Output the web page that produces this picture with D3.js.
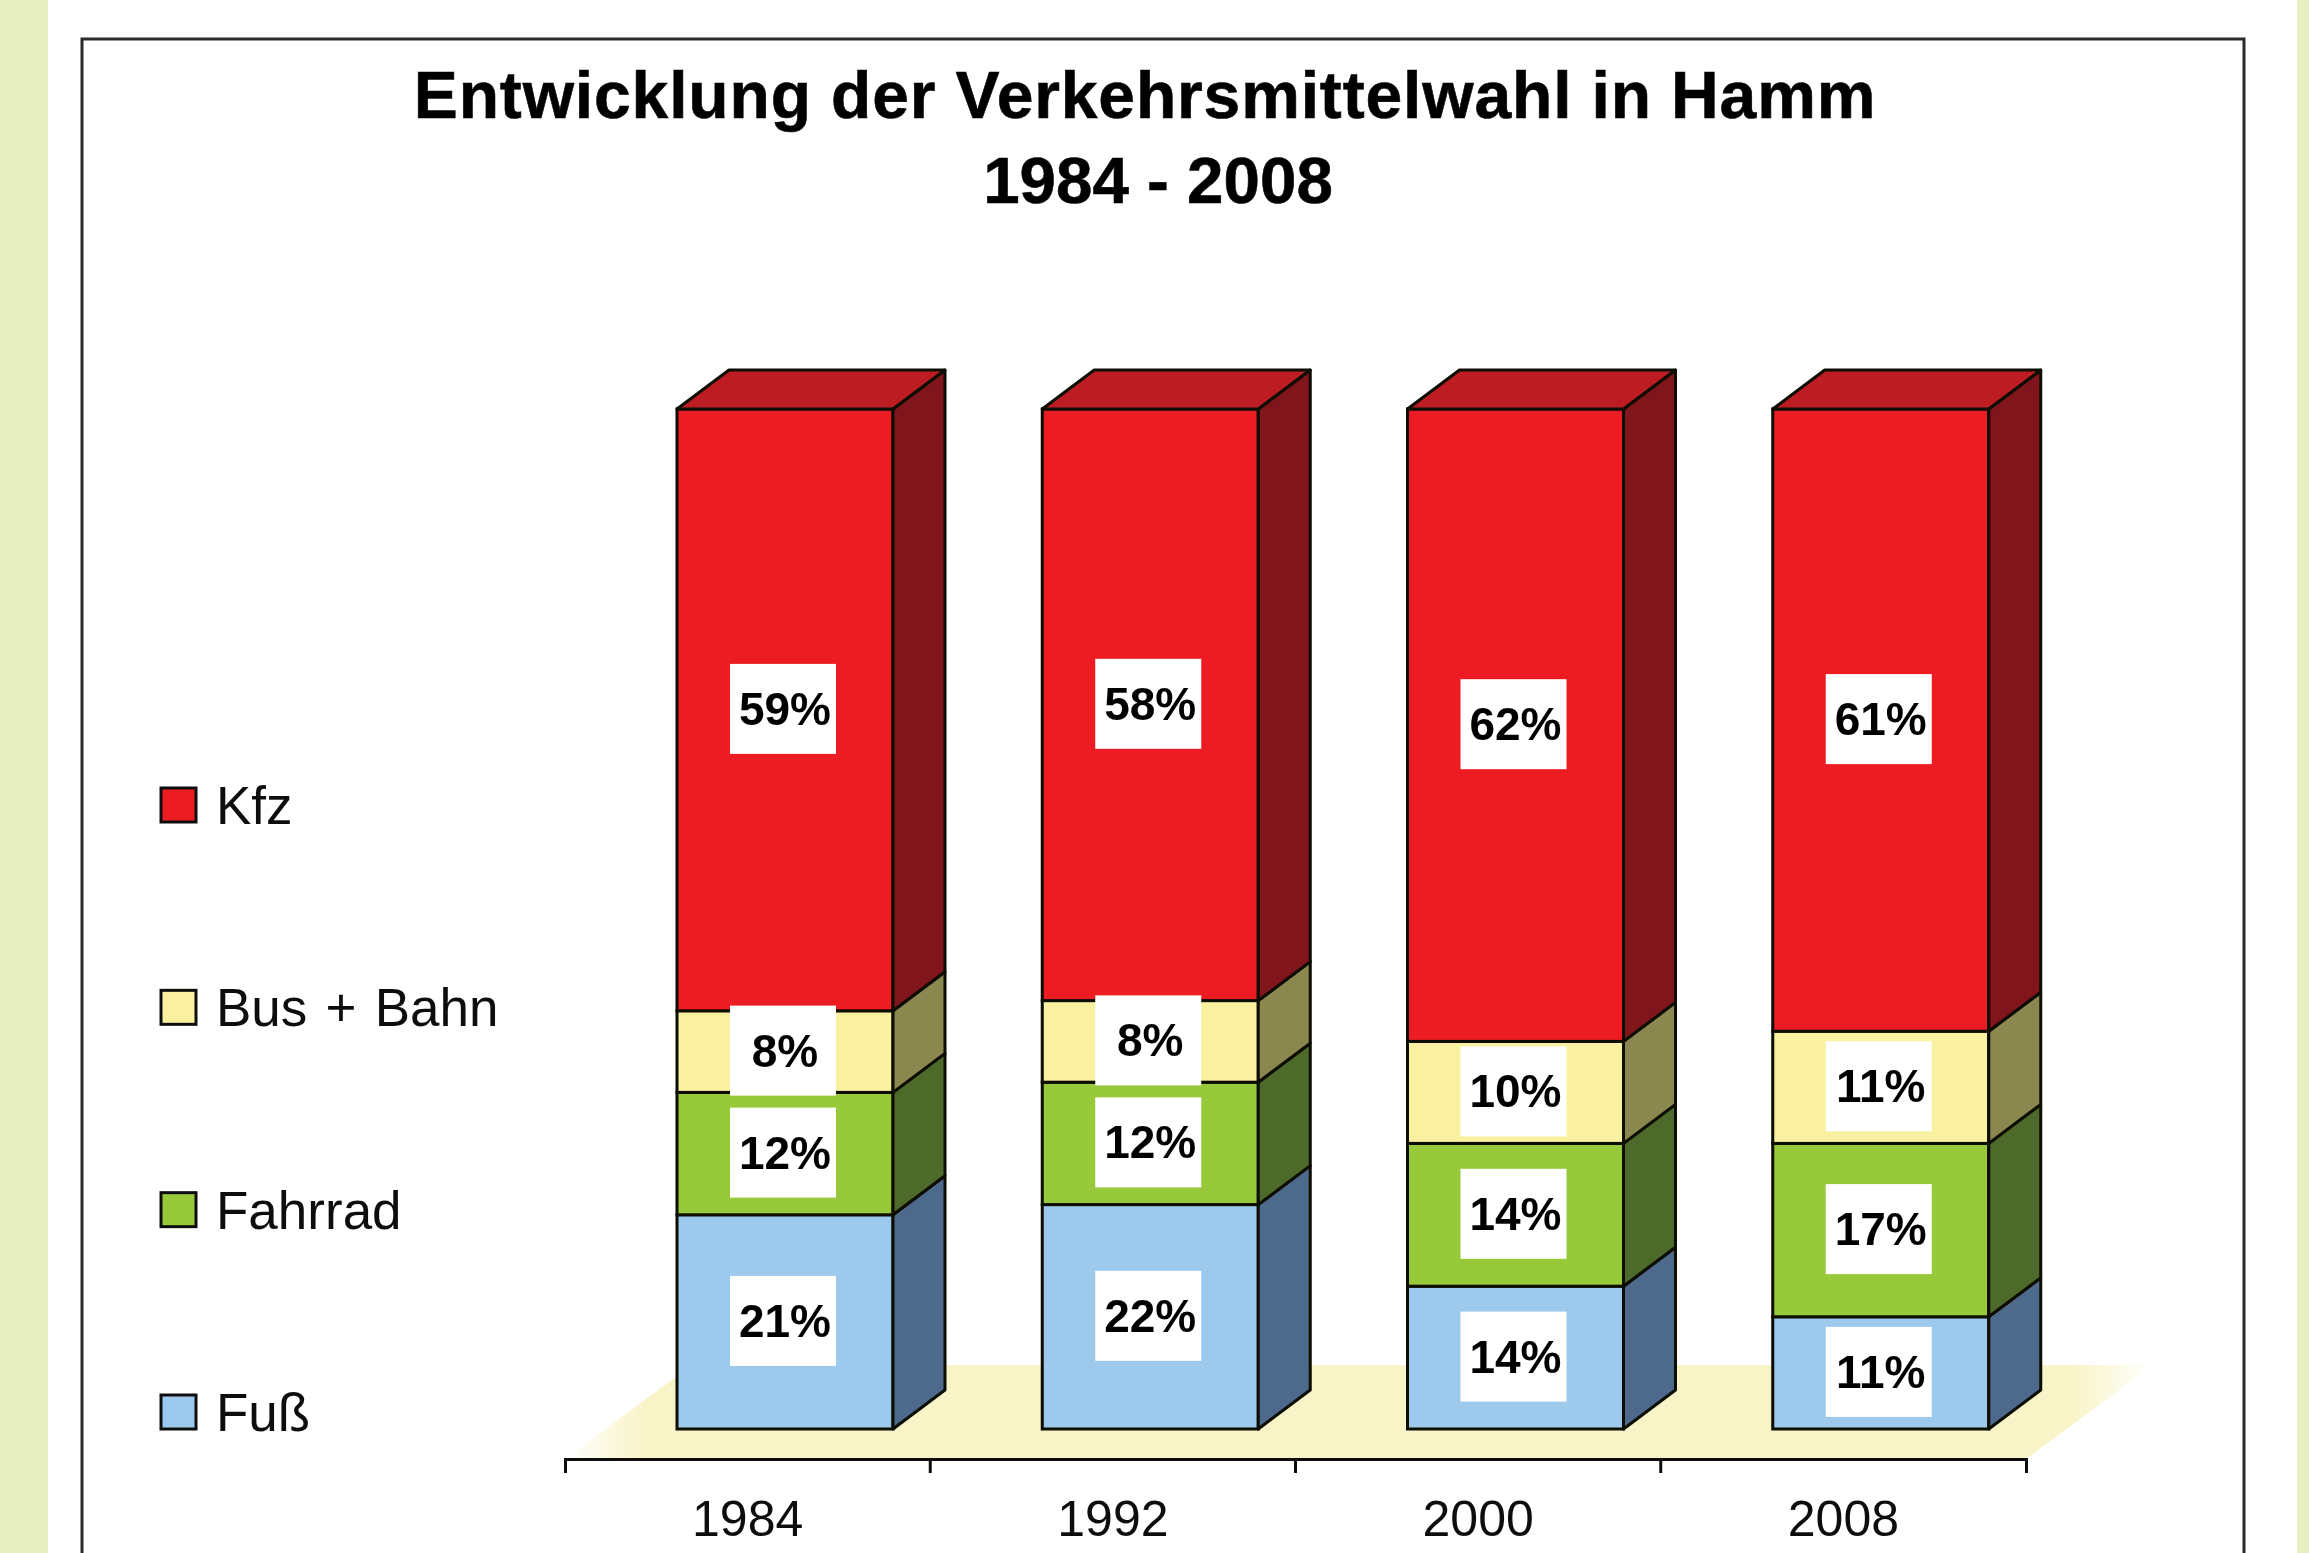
<!DOCTYPE html>
<html><head><meta charset="utf-8">
<script src="https://cdn.jsdelivr.net/npm/d3@7"></script>
<style>html,body{margin:0;padding:0;background:#fff}svg{display:block}text{font-family:"Liberation Sans",Arial,sans-serif}</style>
</head><body><div id="c"></div>
<script>
const years=["1984","1992","2000","2008"];
const seriesNames=["Fuß","Fahrrad","Bus + Bahn","Kfz"];
const fuss=[21,22,14,11];
const fahrrad=[12,12,14,17];
const busBahn=[8,8,10,11];
const kfz=[59,58,62,61];
const faceColors=["#9dc9ec","#97c93a","#f9f0a0","#ed1c24"];
const sideColors=["#4e6a8c","#4d6a2b","#8a8850","#80141a"];
const titleLines=["Entwicklung der Verkehrsmittelwahl in Hamm","1984 - 2008"];

const W=2309,H=1553;
const svg=d3.select("#c").append("svg").attr("width",W).attr("height",H);
const defs=svg.append("defs");
defs.append("filter").attr("id","soft").append("feGaussianBlur").attr("stdDeviation",0.55);
const lg=defs.append("linearGradient").attr("id","floor").attr("x1","0").attr("x2","1").attr("y1","0").attr("y2","0");
[[0,"#fff"],[0.05,"#f9f4c8"],[0.95,"#f9f4c8"],[1,"#fff"]].forEach(s=>lg.append("stop").attr("offset",s[0]).attr("stop-color",s[1]));

svg.append("rect").attr("width",48).attr("height",H).attr("fill","#e8f0c2");
svg.append("rect").attr("x",2297).attr("width",12).attr("height",H).attr("fill","#e8f0c2");
const root=svg.append("g").attr("filter","url(#soft)");
root.append("path").attr("d","M82,1560V39H2244V1560").attr("fill","#fff").attr("stroke","#2a2a2a").attr("stroke-width",3);

root.selectAll("text.title").data(titleLines).join("text").attr("class","title")
 .attr("x",(d,i)=>i?1158:1145).attr("y",(d,i)=>i?203:118)
 .attr("text-anchor","middle").attr("font-weight","bold").attr("font-size",(d,i)=>i?65.5:66)
 .attr("letter-spacing",(d,i)=>i?0:0.85).attr("fill","#050505").attr("stroke","#050505").attr("stroke-width",0.6).text(d=>d);

const x=d3.scaleBand().domain(years).range([565,2026]);
const y=d3.scaleLinear().domain([0,100]).range([1429,409]);
const barW=216,barOff=112,dx=52,dy=39;

// floor
const fl=d3.path();
fl.moveTo(x.range()[0],1459);fl.lineTo(x.range()[0]+127,1365);fl.lineTo(x.range()[1]+127,1365);fl.lineTo(x.range()[1],1459);fl.closePath();
root.append("path").attr("d",fl.toString()).attr("fill","url(#floor)");

const rows=years.map((yr,i)=>({yr,vals:[fuss[i],fahrrad[i],busBahn[i],kfz[i]]}));
const stack=d3.stack().keys([0,1,2,3]).value((d,k)=>d.vals[k]);
const stacked=stack(rows);
const line="#0a0a05";
stacked.forEach((layer,k)=>{
  const g=root.append("g");
  layer.forEach((seg)=>{
    const yr=seg.data.yr,x0=x(yr)+barOff,x1=x0+barW,yb=y(seg[0]),yt=y(seg[1]);
    g.append("rect").attr("x",x0).attr("y",yt).attr("width",barW).attr("height",yb-yt)
     .attr("fill",faceColors[k]).attr("stroke",line).attr("stroke-width",3);
    const s=d3.path();s.moveTo(x1,yb);s.lineTo(x1+dx,yb-dy);s.lineTo(x1+dx,yt-dy);s.lineTo(x1,yt);s.closePath();
    g.append("path").attr("d",s.toString()).attr("fill",sideColors[k]).attr("stroke",line).attr("stroke-width",3).attr("stroke-linejoin","round");
    if(k===3){
      const t=d3.path();t.moveTo(x0,yt);t.lineTo(x0+dx,yt-dy);t.lineTo(x1+dx,yt-dy);t.lineTo(x1,yt);t.closePath();
      g.append("path").attr("d",t.toString()).attr("fill","#bd1e22").attr("stroke",line).attr("stroke-width",3).attr("stroke-linejoin","round");
    }
  });
});
// value labels on top of everything
stacked.forEach((layer,k)=>{
  layer.forEach(seg=>{
    const cx=x(seg.data.yr)+barOff+barW/2,cy=y((seg[0]+seg[1])/2)-1;
    root.append("rect").attr("x",cx-55).attr("y",cy-45).attr("width",106).attr("height",90).attr("fill","#fff");
    root.append("text").attr("x",cx).attr("y",cy+16).attr("text-anchor","middle").attr("font-size",46).attr("font-weight","bold").attr("fill","#050505").text(seg.data.vals[k]+"%");
  });
});
// axis
const axis=d3.axisBottom(x).tickSizeInner(0).tickSizeOuter(14).tickPadding(0);
const ax=root.append("g").attr("transform","translate(0,1459)").call(axis);
ax.select(".domain").attr("stroke","#111").attr("stroke-width",3);
ax.selectAll(".tick line").remove();
ax.selectAll(".tick text").attr("font-size",50).attr("fill","#111").attr("y",77).attr("dy",0).attr("font-family","Liberation Sans");
const between=x.domain().slice(1).map(d=>x(d));
ax.selectAll("line.sep").data(between).join("line").attr("class","sep").attr("x1",d=>d).attr("x2",d=>d).attr("y1",0).attr("y2",14).attr("stroke","#111").attr("stroke-width",3);

// legend
const legendY=d3.scalePoint().domain(seriesNames).range([1412,805]);
seriesNames.forEach((n,i)=>{
  root.append("rect").attr("x",161).attr("y",legendY(n)-17).attr("width",35).attr("height",34).attr("fill",faceColors[i]).attr("stroke","#111").attr("stroke-width",3);
  root.append("text").attr("x",216).attr("y",legendY(n)+19).attr("font-size",53).attr("word-spacing",3.5).attr("fill","#111").text(n);
});
</script></body></html>
